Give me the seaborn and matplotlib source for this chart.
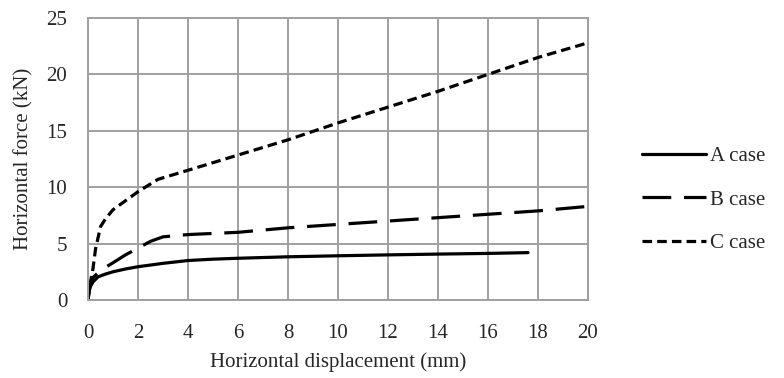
import pandas as pd
import seaborn as sns
import matplotlib.pyplot as plt

# Data
a_x = [0, 0.05, 0.1, 0.2, 0.4, 0.7, 1, 1.5, 2, 3, 4, 5, 6, 8, 10, 12, 14, 16, 17.6]
a_y = [0, 0.8, 1.2, 1.6, 2.05, 2.3, 2.5, 2.75, 2.95, 3.25, 3.5, 3.62, 3.7, 3.83, 3.92, 4.0, 4.07, 4.13, 4.2]

b_x = [0, 0.05, 0.1, 0.2, 0.4, 0.7, 1, 1.5, 2, 2.5, 3, 4, 6, 8, 10, 12, 14, 16, 18, 20]
b_y = [0, 1.0, 1.5, 2.0, 2.4, 2.9, 3.3, 4.0, 4.6, 5.2, 5.6, 5.8, 6.0, 6.4, 6.7, 7.0, 7.3, 7.6, 7.9, 8.3]

c_x = [0, 0.05, 0.1, 0.2, 0.3, 0.5, 0.7, 1, 1.5, 2, 2.8, 4, 6, 8, 10, 12, 14, 16, 18, 20]
c_y = [0, 1.0, 1.6, 2.8, 4.5, 6.5, 7.2, 8.0, 8.8, 9.6, 10.7, 11.5, 12.85, 14.2, 15.7, 17.1, 18.5, 20.0, 21.5, 22.8]

x_ticks = list(range(0, 21, 2))
y_ticks = [0, 5, 10, 15, 20, 25]

sns.set_style("white")
plt.rcParams["font.family"] = ["Liberation Serif", "DejaVu Serif"]

fig = plt.figure(figsize=(7.84, 3.78), dpi=100)
ax = fig.add_axes([88 / 784, 78 / 378, 500 / 784, 282 / 378])

sns.lineplot(x=a_x, y=a_y, ax=ax, color="black", lw=2.3, label="A case")
sns.lineplot(x=b_x, y=b_y, ax=ax, color="black", lw=2.3, label="B case",
             linestyle=(0, (9, 4)))
sns.lineplot(x=c_x, y=c_y, ax=ax, color="black", lw=2.3, label="C case",
             linestyle=(0, (3, 1.6)))

ax.set_xlim(0, 20)
ax.set_ylim(0, 25)
ax.set_xticks(x_ticks)
ax.set_yticks(y_ticks)
ax.grid(True, color="#a0a0a0", lw=1.4)
for s in ax.spines.values():
    s.set_color("#a0a0a0")
    s.set_linewidth(1.4)
ax.tick_params(axis="x", length=0, labelsize=15, pad=17)
ax.tick_params(axis="y", length=0, labelsize=15, pad=15)

ax.set_xlabel("Horizontal displacement (mm)", fontsize=15, labelpad=7)
ax.set_ylabel("Horizontal force (kN)", fontsize=15, labelpad=9)

ax.legend(loc="center left", bbox_to_anchor=(1.07, 0.355), frameon=False,
          fontsize=15, handlelength=3.1, handletextpad=0.2, labelspacing=1.15)

fig.savefig("out.png", dpi=100)
